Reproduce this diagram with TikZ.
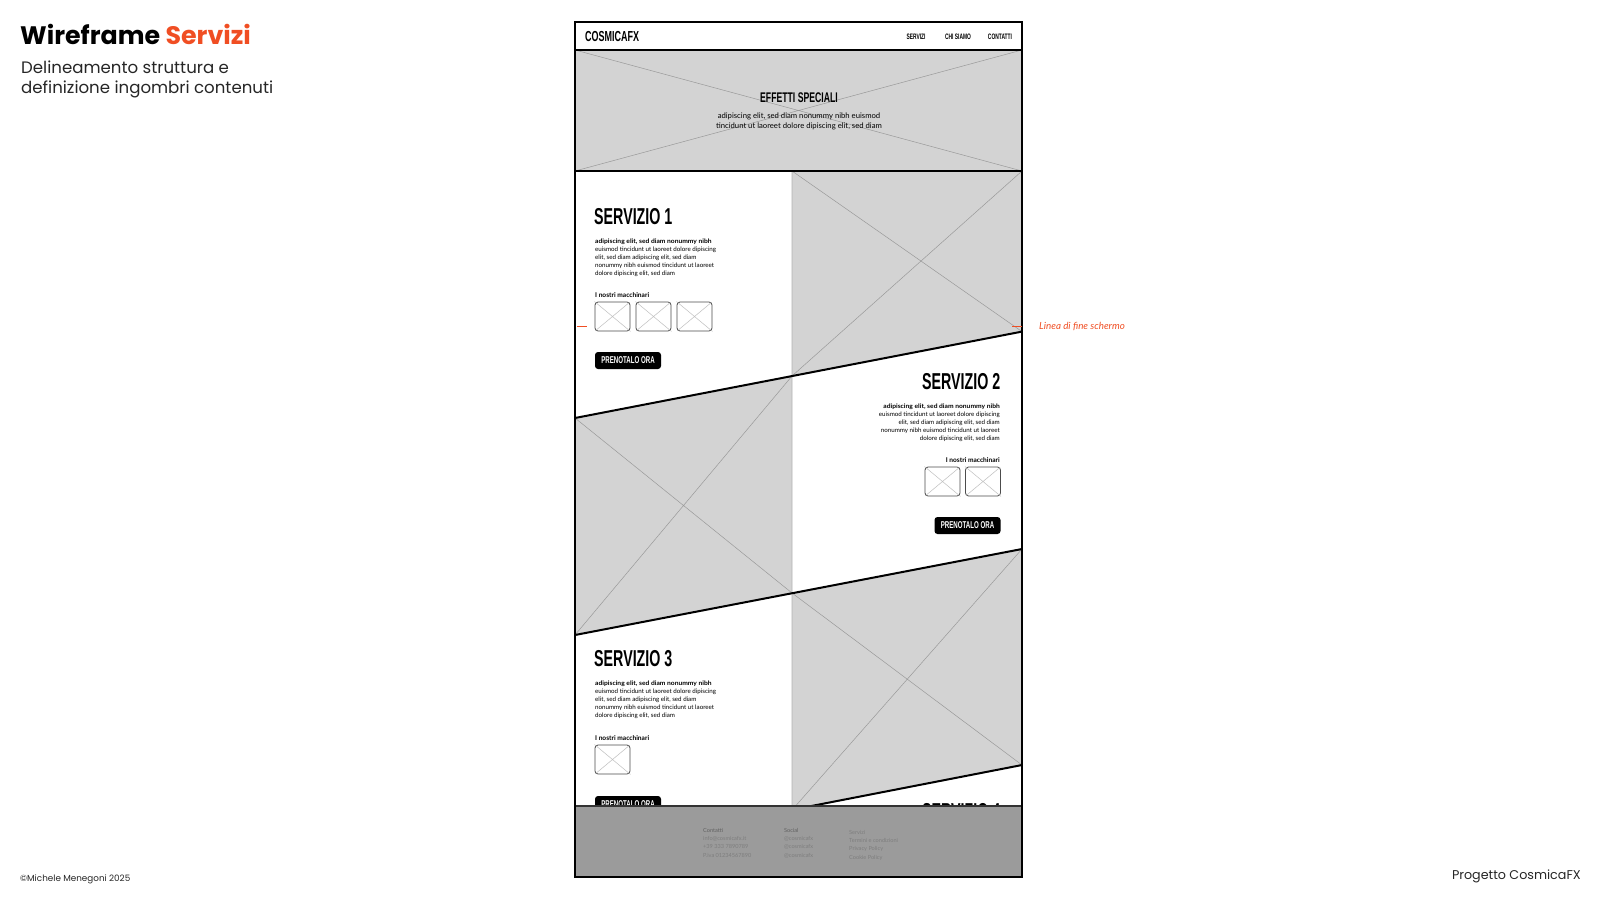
\documentclass[tikz,border=0pt]{standalone}
\usepackage{fontspec}
\usepackage{graphicx}
\setmainfont{Poppins}
\newfontfamily\wfbody{Lato}
\newfontfamily\wfcond{Liberation Sans}
\definecolor{accent}{HTML}{F04E23}
\definecolor{imgray}{HTML}{D3D3D3}
\definecolor{footgray}{HTML}{9B9B9B}
\definecolor{foottxt}{HTML}{7E7E7E}
\newcommand{\condtxt}[2]{\scalebox{0.62}[1]{\wfcond\bfseries\fontsize{#1}{#1}\selectfont #2}}
\newcommand{\leadline}{\scalebox{1.08}[1]{\textbf{adipiscing elit, sed diam nonummy nibh}}}
\tikzset{
  imgarea/.style={fill=imgray, draw=black!30, line width=0.6pt},
  xline/.style={draw=black!40, line width=0.5pt},
  diagline/.style={draw=black, line width=2pt},
  framebox/.style={draw=black, line width=1.6pt},
  thumb/.style={draw=black!70, line width=0.8pt, rounded corners=3pt, fill=white, minimum width=35pt, minimum height=29pt, inner sep=0pt},
  thumbx/.style={draw=black!25, line width=0.5pt, shorten <=1.2pt, shorten >=1.2pt},
  btn/.style={fill=black, rounded corners=3pt, text=white, inner sep=0pt, minimum width=66pt, minimum height=17pt},
  body/.style={inner sep=0pt, font=\wfbody\fontsize{6.2}{8}\selectfont},
  smallbold/.style={inner sep=0pt, font=\wfbody\bfseries\fontsize{6.6}{7}\selectfont},
  foot/.style={inner sep=0pt, text=foottxt, font=\wfbody\fontsize{5.6}{8.3}\selectfont, align=left, anchor=north west},
  plain/.style={inner sep=0pt},
}
\newcommand{\thumbbox}[3]{%
  \node[thumb] (#1) at (#2,#3) {};
  \draw[thumbx] (#1.north west) -- (#1.south east) (#1.north east) -- (#1.south west);}
\begin{document}
\begin{tikzpicture}[x=1pt,y=-1pt]
\useasboundingbox (0,0) rectangle (1600,900);

% ---------- left captions ----------
\node[plain, anchor=base west, font=\bfseries\fontsize{25.3}{25.3}\selectfont] (title) at (20,44.5) {Wireframe \textcolor{accent}{Servizi}};
\node[plain, anchor=base west, font=\fontsize{16.6}{16.6}\selectfont, text=black!85] (sub1) at (21,73.5) {Delineamento struttura e};
\node[plain, anchor=base west, font=\fontsize{16.6}{16.6}\selectfont, text=black!85] (sub2) at (21,93) {definizione ingombri contenuti};
\node[plain, anchor=base west, font=\fontsize{8.8}{8.8}\selectfont, text=black!85] (copy) at (20,881) {\textcopyright Michele Menegoni 2025};
\node[plain, anchor=base east, font=\fontsize{12.7}{12.7}\selectfont, text=black!85] (proj) at (1581,879) {Progetto CosmicaFX};

% ---------- hero ----------
\fill[imgray] (575,50) rectangle (1022,171);
\draw[xline] (575,50) -- (1022,171) (1022,50) -- (575,171);
\node[plain] (herot) at (799,97.5) {\condtxt{14}{EFFETTI SPECIALI}};
\node[plain, align=center, font=\wfbody\fontsize{7.7}{10}\selectfont] (herob) at (799,121.5)
  {adipiscing elit, sed diam nonummy nibh euismod\\tincidunt ut laoreet dolore dipiscing elit, sed diam};

% ---------- image areas ----------
\path[imgarea] (792,171) -- (1022,171) -- (1022,331.6) -- (792,376) -- cycle;
\draw[xline] (792,171) -- (1022,331.6) (1022,171) -- (792,376);
\path[imgarea] (575,418) -- (792,376) -- (792,593) -- (575,635) -- cycle;
\draw[xline] (575,418) -- (792,593) (792,376) -- (575,635);
\path[imgarea] (792,593) -- (1022,549) -- (1022,765) -- (792,810) -- cycle;
\draw[xline] (792,593) -- (1022,765) (1022,549) -- (792,810);

% ---------- diagonals ----------
\draw[diagline] (575,418) -- (1022,331.6);
\draw[diagline] (575,635) -- (1022,549);
\draw[diagline] (575,852) -- (1022,765);

% ---------- header ----------
\node[plain, anchor=west] (logo) at (585,37) {\condtxt{14.5}{COSMICAFX}};
\node[plain] (nav1) at (916,37) {\condtxt{7.9}{SERVIZI}};
\node[plain] (nav2) at (958,37) {\condtxt{7.9}{CHI SIAMO}};
\node[plain] (nav3) at (1000,37) {\condtxt{7.9}{CONTATTI}};

% ---------- servizio 1 ----------
\node[plain, anchor=west] (s1t) at (594,217) {\condtxt{23}{SERVIZIO 1}};
\node[body, anchor=north west, align=left] (s1b) at (595,238.5)
  {\leadline\\euismod tincidunt ut laoreet dolore dipiscing\\elit, sed diam adipiscing elit, sed diam\\nonummy nibh euismod tincidunt ut laoreet\\dolore dipiscing elit, sed diam};
\node[smallbold, anchor=west] (s1m) at (595,295) {I nostri macchinari};
\thumbbox{s1a}{612.5}{316.5}
\thumbbox{s1c}{653.5}{316.5}
\thumbbox{s1d}{694.5}{316.5}
\node[btn] (s1btn) at (628,360.5) {\condtxt{9.9}{PRENOTALO ORA}};

% ---------- servizio 2 ----------
\node[plain, anchor=east] (s2t) at (1000.5,382) {\condtxt{23}{SERVIZIO 2}};
\node[body, anchor=north east, align=right] (s2b) at (1000,403.5)
  {\leadline\\euismod tincidunt ut laoreet dolore dipiscing\\elit, sed diam adipiscing elit, sed diam\\nonummy nibh euismod tincidunt ut laoreet\\dolore dipiscing elit, sed diam};
\node[smallbold, anchor=east] (s2m) at (1000,460) {I nostri macchinari};
\thumbbox{s2a}{942.5}{481.5}
\thumbbox{s2c}{983}{481.5}
\node[btn] (s2btn) at (967.5,525.5) {\condtxt{9.9}{PRENOTALO ORA}};

% ---------- servizio 3 ----------
\node[plain, anchor=west] (s3t) at (594,659) {\condtxt{23}{SERVIZIO 3}};
\node[body, anchor=north west, align=left] (s3b) at (595,680.5)
  {\leadline\\euismod tincidunt ut laoreet dolore dipiscing\\elit, sed diam adipiscing elit, sed diam\\nonummy nibh euismod tincidunt ut laoreet\\dolore dipiscing elit, sed diam};
\node[smallbold, anchor=west] (s3m) at (595,738) {I nostri macchinari};
\thumbbox{s3a}{612.5}{759.5}
\node[btn] (s3btn) at (628,804.5) {\condtxt{9.9}{PRENOTALO ORA}};

% ---------- servizio 4 (cut) ----------
\node[plain, anchor=east] (s4t) at (1000.5,812) {\condtxt{23}{SERVIZIO 4}};

% ---------- footer ----------
\fill[footgray] (575,806) rectangle (1022,877);
\draw[black!80, line width=1.2pt] (575,806) -- (1022,806);
\node[foot] (f1) at (703,828) {\textcolor{black!62}{Contatti}\\info@cosmicafx.it\\+39 333 7890789\\P.iva 01234567890};
\node[foot] (f2) at (784,828) {\textcolor{black!62}{Social}\\@cosmicafx\\@cosmicafx\\@cosmicafx};
\node[foot] (f3) at (849,830) {Servizi\\Termini e condizioni\\Privacy Policy\\Cookie Policy};

% ---------- frame ----------
\draw[framebox] (575,22) rectangle (1022,877);
\draw[black, line width=1.6pt] (575,50) -- (1022,50);
\draw[black, line width=1.6pt] (575,171) -- (1022,171);

% ---------- screen end marker ----------
\coordinate (ml1) at (577,326);
\coordinate (ml2) at (587,326);
\coordinate (mr1) at (1012,326);
\coordinate (mr2) at (1022,326);
\draw[accent, line width=0.6pt] (ml1) -- (ml2);
\draw[accent, line width=0.6pt] (mr1) -- (mr2);
\node[plain, anchor=west, text=accent, font=\wfbody\itshape\fontsize{9.8}{9.8}\selectfont] (marker) at (1039,326) {Linea di fine schermo};
\end{tikzpicture}
\end{document}
